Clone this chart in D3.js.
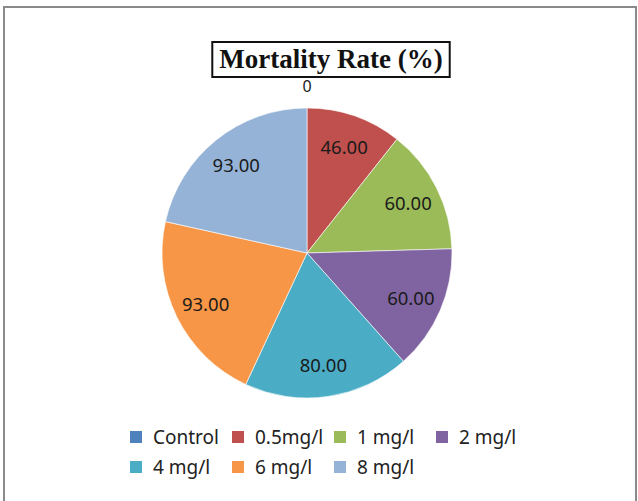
<!DOCTYPE html>
<html>
<head>
<meta charset="utf-8">
<script src="https://cdn.jsdelivr.net/npm/d3@7"></script>
<style>
  html, body { margin: 0; padding: 0; background: #fff; }
  svg { display: block; }
</style>
</head>
<body>
<svg id="chart" width="638" height="501"></svg>
<script>
const categories = ["Control", "0.5mg/l", "1 mg/l", "2 mg/l", "4 mg/l", "6 mg/l", "8 mg/l"];
const values = [0, 46, 60, 60, 80, 93, 93];
const labels = ["0", "46.00", "60.00", "60.00", "80.00", "93.00", "93.00"];
const colors = ["#4F81BD", "#C0504D", "#9BBB59", "#8064A2", "#4BACC6", "#F79646", "#95B3D7"];
const title = "Mortality Rate (%)";

const svg = d3.select("#chart");

// outer frame
svg.append("rect").attr("x", 4).attr("y", 7).attr("width", 632).attr("height", 520)
  .attr("fill", "#fff").attr("stroke", "#8a8a8a").attr("stroke-width", 2);

const cx = 307, cy = 253, r = 145;
const data = categories.map((c, i) => ({ cat: c, value: values[i], label: labels[i], color: colors[i] }));

const pie = d3.pie().value(d => d.value).sort(null);
const arcs = pie(data);
const arc = d3.arc().innerRadius(0).outerRadius(r);
const labelArc = d3.arc().innerRadius(r * 0.78).outerRadius(r * 0.78);

const g = svg.append("g").attr("transform", `translate(${cx},${cy})`);
g.selectAll("path.slice").data(arcs).join("path")
  .attr("class", "slice")
  .attr("d", arc)
  .attr("fill", d => d.data.color)
  .attr("stroke", "rgba(255,255,255,0.6)")
  .attr("stroke-width", 1);

g.selectAll("text.lbl").data(arcs).join("text")
  .attr("class", "lbl")
  .attr("transform", d => {
    if (d.data.value === 0) return `translate(0,${-r - 22})`;
    const [x, y] = labelArc.centroid(d);
    return `translate(${x},${y})`;
  })
  .attr("text-anchor", "middle")
  .attr("dominant-baseline", "central")
  .attr("font-family", "'Noto Sans', 'Open Sans', sans-serif")
  .attr("font-size", d => d.data.value === 0 ? 16 : 18.5)
  .attr("fill", "#1a1a1a")
  .text(d => d.data.label);

// title with box
const titleBox = svg.append("rect");
const t = svg.append("text")
  .attr("x", 331).attr("y", 68)
  .attr("text-anchor", "middle")
  .attr("font-family", "'Liberation Serif', 'DejaVu Serif', serif")
  .attr("font-weight", "bold")
  .attr("font-size", 27)
  .attr("fill", "#111")
  .text(title);
const tb = t.node().getBBox();
titleBox
  .attr("x", tb.x - 7).attr("y", 42)
  .attr("width", tb.width + 14).attr("height", 35)
  .attr("fill", "#fff").attr("stroke", "#111").attr("stroke-width", 2);

// legend: fixed-width columns
const rows = [[0, 1, 2, 3], [4, 5, 6]];
const rowY = [437, 467];
const colW = 102, legX = 130;
const leg = svg.append("g");
rows.forEach((row, ri) => {
  row.forEach((i, ci) => {
    const x = legX + ci * colW;
    leg.append("rect").attr("x", x).attr("y", rowY[ri] - 6).attr("width", 12).attr("height", 12)
      .attr("fill", colors[i]);
    leg.append("text")
      .attr("x", x + 23).attr("y", rowY[ri])
      .attr("dominant-baseline", "central")
      .attr("font-family", "'Noto Sans', 'Open Sans', sans-serif")
      .attr("font-size", 19)
      .attr("fill", "#222")
      .text(categories[i]);
  });
});
</script>
</body>
</html>
